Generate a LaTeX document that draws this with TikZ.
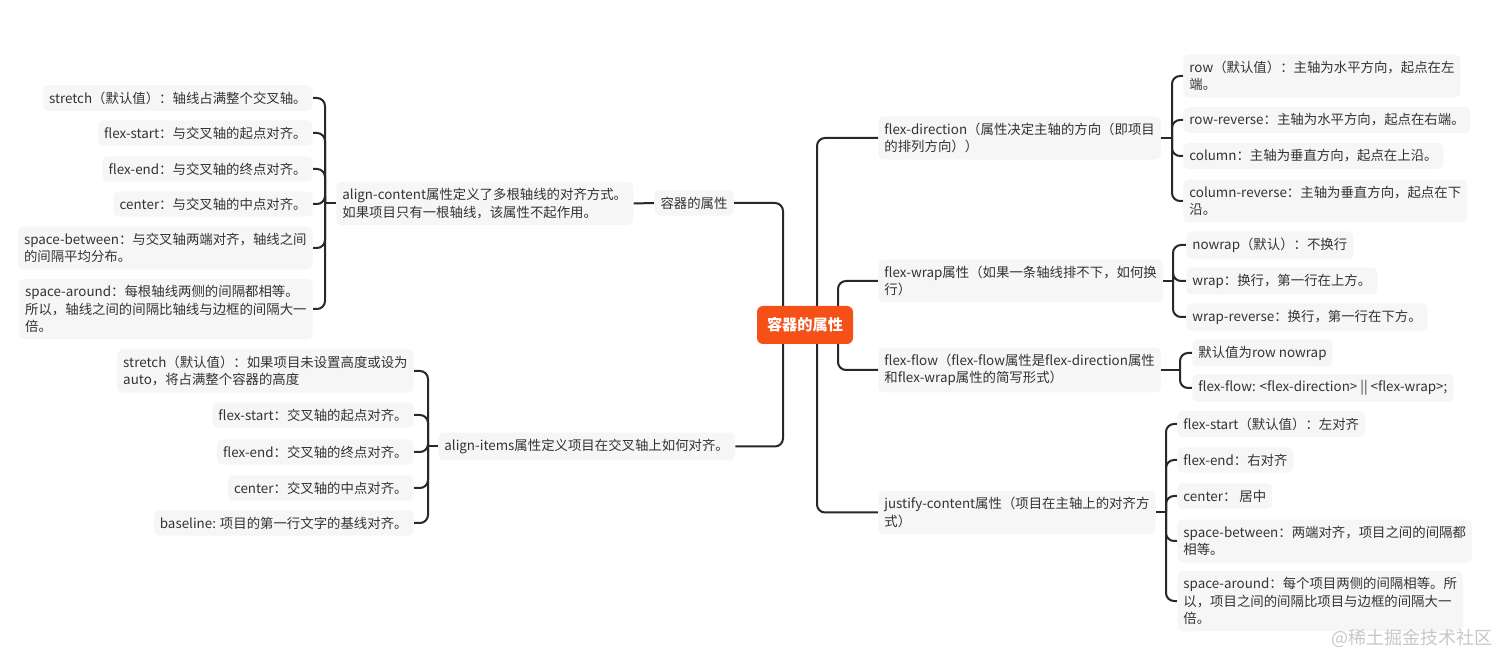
\documentclass[tikz,border=0pt]{standalone}
\usepackage{fontspec}
\setmainfont{Noto Sans CJK SC}
\usetikzlibrary{backgrounds}

\definecolor{boxfill}{RGB}{246,246,246}
\definecolor{txt}{RGB}{51,51,51}
\definecolor{rootfill}{RGB}{245,80,24}
\definecolor{linecol}{RGB}{40,40,40}
\definecolor{wmark}{RGB}{200,200,200}

\begin{document}
\begin{tikzpicture}[x=0.5pt, y=-0.5pt]

  % Define styles
  \tikzstyle{topic} = [rectangle, rounded corners=2.5pt, fill=boxfill, text=txt, inner xsep=3pt, inner ysep=3.2pt, align=left, font=\fontsize{6.7pt}{8.8pt}\selectfont]
  \tikzstyle{root} = [rectangle, rounded corners=3pt, fill=rootfill, text=white, minimum width=48pt, minimum height=19pt, font=\fontsize{7.6pt}{9pt}\selectfont\bfseries]
  \tikzstyle{conn} = [draw=linecol, line width=1pt, rounded corners=4pt]

  \useasboundingbox (0,0) rectangle (1512,668);

  % Root
  \node[root] (root) at (805,325) {容器的属性};
  \coordinate (ls) at (783,325);
  \coordinate (rsa) at (817,325);
  \coordinate (rsb) at (838,325);

  % Left: align-content
  \node[topic] (sub) at (694,203) {容器的属性};
  \node[topic, anchor=west] (ac) at (336,203.5) {align-content属性定义了多根轴线的对齐方式。\\如果项目只有一根轴线，该属性不起作用。};
  \coordinate (acs) at (325,203.5);

  \node[topic, anchor=east] (lc1) at (313,98) {stretch（默认值）：轴线占满整个交叉轴。};
  \node[topic, anchor=east] (lc2) at (313,133) {flex-start：与交叉轴的起点对齐。};
  \node[topic, anchor=east] (lc3) at (313,169) {flex-end：与交叉轴的终点对齐。};
  \node[topic, anchor=east] (lc4) at (313,204) {center：与交叉轴的中点对齐。};
  \node[topic, anchor=east] (lc5) at (313,248) {space-between：与交叉轴两端对齐，轴线之间\\的间隔平均分布。};
  \node[topic, anchor=east] (lc6) at (313,309) {space-around：每根轴线两侧的间隔都相等。\\所以，轴线之间的间隔比轴线与边框的间隔大一\\倍。};

  % Left: align-items
  \node[topic, anchor=west] (ai) at (438,446.5) {align-items属性定义项目在交叉轴上如何对齐。};
  \coordinate (ais) at (428,446.5);

  \node[topic, anchor=east] (ic1) at (414,371) {stretch（默认值）：如果项目未设置高度或设为\\auto，将占满整个容器的高度};
  \node[topic, anchor=east] (ic2) at (414,415) {flex-start：交叉轴的起点对齐。};
  \node[topic, anchor=east] (ic3) at (414,452) {flex-end：交叉轴的终点对齐。};
  \node[topic, anchor=east] (ic4) at (414,488) {center：交叉轴的中点对齐。};
  \node[topic, anchor=east] (ic5) at (414,523) {baseline: 项目的第一行文字的基线对齐。};

  % Right: flex-direction
  \node[topic, anchor=west] (fd) at (878,138) {flex-direction（属性决定主轴的方向（即项目\\的排列方向））};
  \coordinate (fds) at (1172,138);
  \node[topic, anchor=west] (dc1) at (1183,76) {row（默认值）：主轴为水平方向，起点在左\\端。};
  \node[topic, anchor=west] (dc2) at (1183,120) {row-reverse：主轴为水平方向，起点在右端。};
  \node[topic, anchor=west] (dc3) at (1183,156) {column：主轴为垂直方向，起点在上沿。};
  \node[topic, anchor=west] (dc4) at (1183,201) {column-reverse：主轴为垂直方向，起点在下\\沿。};

  % Right: flex-wrap
  \node[topic, anchor=west] (fw) at (878,281) {flex-wrap属性（如果一条轴线排不下，如何换\\行）};
  \coordinate (fws) at (1173,281);
  \node[topic, anchor=west] (wc1) at (1186,245) {nowrap（默认）：不换行};
  \node[topic, anchor=west] (wc2) at (1186,281) {wrap：换行，第一行在上方。};
  \node[topic, anchor=west] (wc3) at (1186,317) {wrap-reverse：换行，第一行在下方。};

  % Right: flex-flow
  \node[topic, anchor=west] (ff) at (878,370) {flex-flow（flex-flow属性是flex-direction属性\\和flex-wrap属性的简写形式）};
  \coordinate (ffs) at (1180,370);
  \node[topic, anchor=west] (fc1) at (1192,353) {默认值为row nowrap};
  \node[topic, anchor=west] (fc2) at (1192,388) {flex-flow: <flex-direction> || <flex-wrap>;};

  % Right: justify-content
  \node[topic, anchor=west] (jc) at (878,512.5) {justify-content属性（项目在主轴上的对齐方\\式）};
  \coordinate (jcs) at (1166,512.5);
  \node[topic, anchor=west] (jc1) at (1177,424) {flex-start（默认值）：左对齐};
  \node[topic, anchor=west] (jc2) at (1177,460) {flex-end：右对齐};
  \node[topic, anchor=west] (jc3) at (1177,496) {center： 居中};
  \node[topic, anchor=west] (jc4) at (1177,541) {space-between：两端对齐，项目之间的间隔都\\相等。};
  \node[topic, anchor=west] (jc5) at (1177,601) {space-around：每个项目两侧的间隔相等。所\\以，项目之间的间隔比项目与边框的间隔大一\\倍。};

  % Watermark
  \node[text=wmark, font=\fontsize{9pt}{10pt}\selectfont] (wm) at (1412,638) {@稀土掘金技术社区};

  % Connectors
  \begin{pgfonlayer}{background}
    \fill[white] (0,0) rectangle (1512,668);

    \draw[conn] (ls) |- (sub.east);
    \draw[conn] (ls) |- (ai.east);
    \draw[conn] (rsa) |- (fd.west);
    \draw[conn] (rsb) |- (fw.west);
    \draw[conn] (rsb) |- (ff.west);
    \draw[conn] (rsa) |- (jc.west);

    \draw[conn] (ac.east) -- (sub.west);
    \draw[conn] (ac.west) -- (acs);
    \foreach \c in {lc1,lc2,lc3,lc4,lc5,lc6}
      \draw[conn] (acs) |- (\c.east);

    \draw[conn] (ai.west) -- (ais);
    \foreach \c in {ic1,ic2,ic3,ic4,ic5}
      \draw[conn] (ais) |- (\c.east);

    \draw[conn] (fd.east) -- (fds);
    \foreach \c in {dc1,dc2,dc3,dc4}
      \draw[conn] (fds) |- (\c.west);

    \draw[conn] (fw.east) -- (fws);
    \foreach \c in {wc1,wc2,wc3}
      \draw[conn] (fws) |- (\c.west);

    \draw[conn] (ff.east) -- (ffs);
    \foreach \c in {fc1,fc2}
      \draw[conn] (ffs) |- (\c.west);

    \draw[conn] (jc.east) -- (jcs);
    \foreach \c in {jc1,jc2,jc3,jc4,jc5}
      \draw[conn] (jcs) |- (\c.west);
  \end{pgfonlayer}

\end{tikzpicture}
\end{document}
